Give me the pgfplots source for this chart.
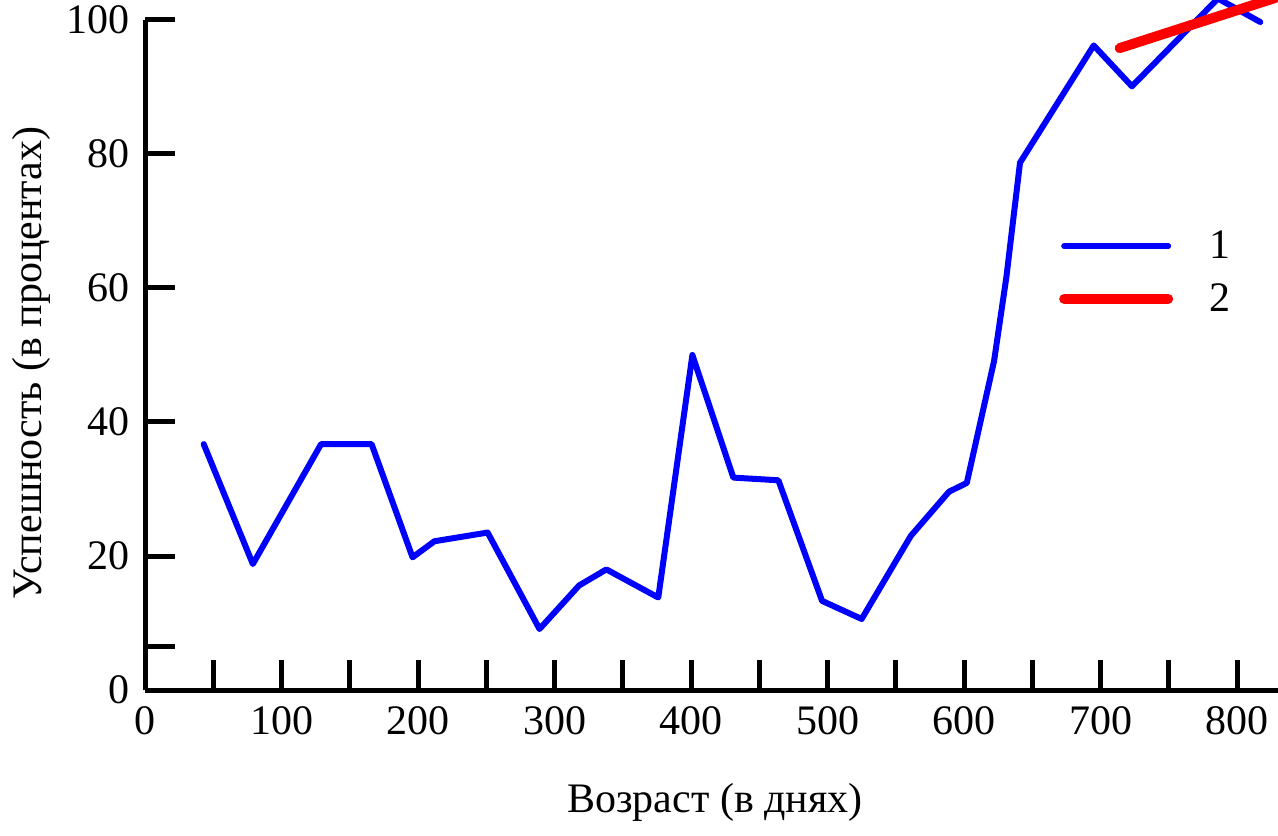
\documentclass[border=0pt]{standalone}
\usepackage{fontspec}
\setmainfont{Liberation Serif}
\usepackage{pgfplots}
\pgfplotsset{compat=1.18}
\begin{document}
\begin{tikzpicture}
\useasboundingbox (0,0) rectangle (639pt,417.5pt);
\begin{axis}[
  at={(72.5pt,72.5pt)}, anchor=south west,
  scale only axis, width=566.5pt, height=335pt,
  xmin=0, xmax=830, ymin=0, ymax=100,
  clip=false,
  axis x line=bottom, axis y line=left,
  axis line style={-, line width=2.5pt, black},
  x axis line style={-}, y axis line style={-},
  tick align=inside,
  major tick length=15pt,
  every tick/.style={black, line width=2.5pt},
  xtick={0,50,...,800},
  xticklabels={0,,100,,200,,300,,400,,500,,600,,700,,800},
  ytick={0,6.5,20,40,60,80,100},
  yticklabels={0,,20,40,60,80,100},
  tick label style={font=\fontsize{21}{25}\selectfont},
  xticklabel style={yshift=-4.5pt},
  yticklabel style={xshift=-4pt},
  xlabel={Возраст (в днях)}, ylabel={Успешность (в процентах)},
  label style={font=\fontsize{21}{25}\selectfont},
  xlabel style={at={(axis description cs:0.503,-0.168)}, anchor=center},
  ylabel style={at={(axis description cs:-0.1005,0.488)}, anchor=center},
  legend style={at={(axis description cs:0.8065,0.692)}, anchor=north west, draw=none, fill=none, inner sep=0pt,
    font=\fontsize{21}{25}\selectfont, row sep=7pt,
    nodes={inner sep=2pt}},
  legend image code/.code={\draw[#1] (0pt,0pt) -- (52pt,0pt);},
  legend cell align=left,
]
\addplot[color={rgb,255:red,0;green,0;blue,255}, line width=3pt, line join=round, line cap=round] coordinates {
 (43,36.7) (79,18.8) (129,36.7) (166,36.7) (196,19.8) (212,22.2) (251,23.5)
 (289,9.1) (318,15.6) (338,18.0) (376,13.8) (401,50.0) (431,31.7) (464,31.3)
 (496,13.3) (525,10.6) (561,23.0) (589,29.6) (602,30.9) (622,49.1) (631,61.6)
 (641,78.7) (695,96.2) (723,90.1) (786,103.2) (817,99.7)
};
\addlegendentry{\hspace{16pt}1}
\addplot[color={rgb,255:red,255;green,0;blue,0}, line width=5pt, line cap=round] coordinates {
 (714,95.8) (828,103.3)
};
\addlegendentry{\hspace{16pt}2}
\end{axis}
\end{tikzpicture}
\end{document}
